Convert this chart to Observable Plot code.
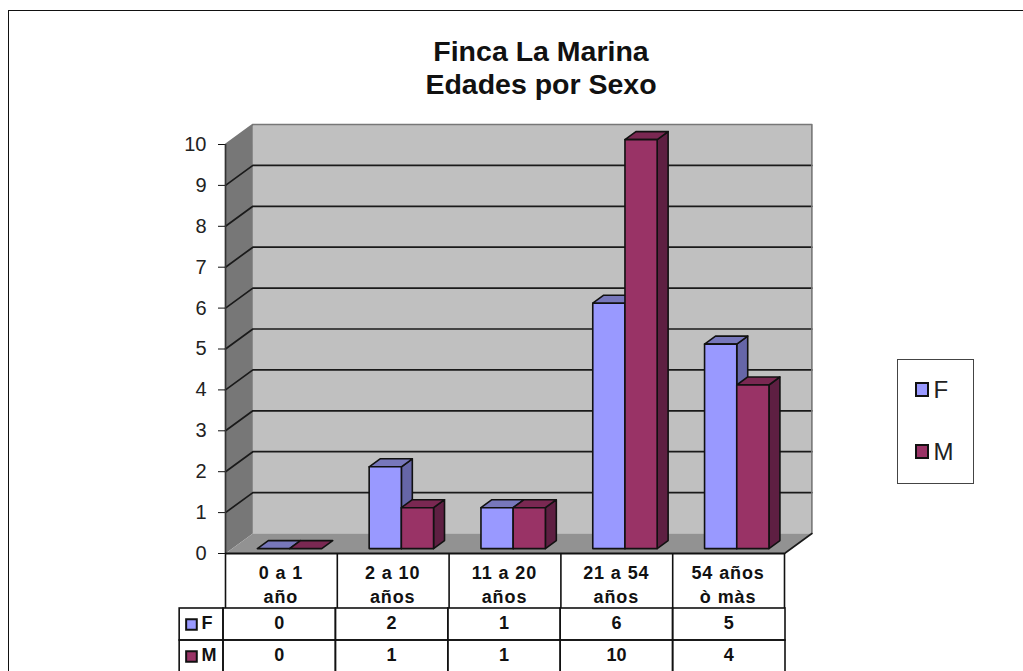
<!DOCTYPE html>
<html lang="es">
<head>
<meta charset="utf-8">
<script src="https://cdn.jsdelivr.net/npm/d3@7"></script>
<script src="https://cdn.jsdelivr.net/npm/@observablehq/plot@0.6"></script>
<style>
html,body{margin:0;padding:0;background:#fff;width:1023px;height:671px;overflow:hidden;font-family:"Liberation Sans",Arial,sans-serif;}
#frame{position:absolute;left:7.5px;top:10px;width:1040px;height:680px;border:1.5px solid #111;box-sizing:border-box;}
#title{position:absolute;left:191px;width:700px;top:35px;text-align:center;font-weight:bold;font-size:28.5px;line-height:33px;color:#111;}
#legend{position:absolute;left:896.5px;top:358.5px;width:77px;height:125px;border:1.4px solid #444;box-sizing:border-box;background:#fff;}
.key{position:absolute;left:17px;display:flex;align-items:center;font-size:24px;color:#222;height:20px;}
.key i{display:block;width:14px;height:15px;border:2px solid #111;box-sizing:border-box;margin-right:5px;}
#main,#table{position:absolute;left:0;}
#main{top:0}#table{top:607px}
.spaced text,text.spaced{letter-spacing:.9px;}
</style>
</head>
<body>
<div id="frame"></div>
<div id="main"></div>
<div id="table"></div>
<div id="title">Finca La Marina<br>Edades por Sexo</div>
<div id="legend"></div>
<script>
const categories = ["0 a 1\naño", "2 a 10\naños", "11 a 20\naños", "21 a 54\naños", "54 años\nò màs"];
const seriesNames = ["F", "M"];
const valuesF = [0, 2, 1, 6, 5];
const valuesM = [0, 1, 1, 10, 4];
const yTicks = [0, 1, 2, 3, 4, 5, 6, 7, 8, 9, 10];
const gridValues = [1, 2, 3, 4, 5, 6, 7, 8, 9];

const colors = {
  F: {front: "#9999FF", top: "#7777BB", side: "#6666A8"},
  M: {front: "#993366", top: "#7A2852", side: "#5E1F42"}
};

/* depth of the chart box and of the bars, in axis units */
const wallDX = 0.245, wallDY = 0.489;
const barDX = 0.098, barDY = 0.196, barLift = 0.12;
const barStart = 0.285, barWidth = 0.288;
const headerDepth = -1.345;

const poly = (pts, o) => Plot.line(pts, {x: "0", y: "1", ...o});
const closed = (...pts) => [...pts, pts[0]];

function barMarks(i, v, s, k) {
  const x0 = i + barStart + k * barWidth, x1 = x0 + barWidth;
  const y0 = barLift, y1 = barLift + v;
  const c = colors[s];
  const line = {stroke: "#111", strokeWidth: 1.6, strokeLinejoin: "round"};
  const out = [];
  if (v > 0) out.push(poly(closed([x1, y0], [x1 + barDX, y0 + barDY], [x1 + barDX, y1 + barDY], [x1, y1]), {fill: c.side, ...line}));
  out.push(poly(closed([x0, y1], [x1, y1], [x1 + barDX, y1 + barDY], [x0 + barDX, y1 + barDY]), {fill: c.top, ...line}));
  if (v > 0) out.push(poly(closed([x0, y0], [x1, y0], [x1, y1], [x0, y1]), {fill: c.front, ...line}));
  return out;
}

const n = categories.length;
const chart = Plot.plot({
  width: 1023, height: 671,
  marginLeft: 225, marginRight: 239, marginTop: 144, marginBottom: 118,
  x: {domain: [0, n], axis: null},
  y: {domain: [0, 10], axis: null},
  style: {fontFamily: "Liberation Sans", background: "transparent", overflow: "visible"},
  marks: [
    // left wall, back wall, floor
    poly(closed([0, 0], [wallDX, wallDY], [wallDX, 10 + wallDY], [0, 10]), {fill: "#777777", stroke: "none"}),
    poly(closed([wallDX, wallDY], [n + wallDX, wallDY], [n + wallDX, 10 + wallDY], [wallDX, 10 + wallDY]), {fill: "#C0C0C0", stroke: "none"}),
    poly(closed([0, 0], [n, 0], [n + wallDX, wallDY], [wallDX, wallDY]), {fill: "#929292", stroke: "none"}),
    // gridlines
    ...gridValues.map(v => poly([[0, v], [wallDX, v + wallDY], [n + wallDX, v + wallDY]], {stroke: "#1a1a1a", strokeWidth: 1.7})),
    poly([[0, 10], [wallDX, 10 + wallDY], [n + wallDX, 10 + wallDY], [n + wallDX, wallDY]], {stroke: "#777", strokeWidth: 1.6}),
    poly([[n, 0], [n + wallDX, wallDY]], {stroke: "#1a1a1a", strokeWidth: 1.6}),
    // bars
    ...d3.range(n).flatMap(i => [...barMarks(i, valuesF[i], "F", 0), ...barMarks(i, valuesM[i], "M", 1)]),
    // axis
    Plot.axisY({ticks: yTicks, tickFormat: d => String(d), anchor: "left", tickSize: 7, tickPadding: 12, fontSize: 20, label: null, stroke: "#111", color: "#222"}),
    Plot.ruleX([0], {y1: 0, y2: 10, stroke: "#333", strokeWidth: 1.7}),
    Plot.ruleY([0], {x1: 0, x2: n, stroke: "#111", strokeWidth: 1.8}),
    // data table header
    Plot.ruleX(d3.range(n + 1), {y1: 0, y2: headerDepth, stroke: "#111", strokeWidth: 1.6}),
    Plot.text(categories, {x: (d, i) => i + 0.5, y: 0, dy: 29.5, dx: -0.5, text: d => d, fontSize: 18, fontWeight: "bold", lineHeight: 1.33, fill: "#111", className: "spaced"})
  ]
});
document.getElementById("main").append(chart);

const rows = seriesNames.flatMap((s, k) => (k ? valuesM : valuesF).map((v, i) => ({s, i, v})));
const keyLeft = -0.39;
const table = Plot.plot({
  width: 1023, height: 65,
  marginLeft: 223, marginRight: 238, marginTop: 1, marginBottom: 0,
  x: {domain: [0, n], axis: null},
  y: {domain: seriesNames, axis: null, padding: 0},
  style: {fontFamily: "Liberation Sans", background: "transparent", overflow: "visible"},
  marks: [
    Plot.barX(rows, {x1: "i", x2: d => d.i + 1, y: "s", stroke: "#111", strokeWidth: 1.6, fill: "none"}),
    Plot.barX(seriesNames, {x1: keyLeft, x2: 0, y: d => d, stroke: "#111", strokeWidth: 1.6, fill: "none"}),
    Plot.dot(seriesNames, {x: -0.285, y: d => d, symbol: "square", r: 6, fill: d => colors[d].front, stroke: "#111", strokeWidth: 2}),
    Plot.text(seriesNames, {x: -0.196, y: d => d, dy: -1, text: d => d, textAnchor: "start", fontSize: 18, fontWeight: "bold", fill: "#111"}),
    Plot.text(rows, {x: d => d.i + 0.5, y: "s", dy: -1, dx: -0.5, text: d => String(d.v), fontSize: 18, fontWeight: "bold", fill: "#111"})
  ]
});
document.getElementById("table").append(table);

const legend = document.getElementById("legend");
seriesNames.forEach((s, k) => {
  const el = document.createElement("div");
  el.className = "key";
  el.style.top = (20 + k * 62) + "px";
  const sw = document.createElement("i");
  sw.style.background = colors[s].front;
  el.append(sw, s);
  legend.append(el);
});
</script>
</body>
</html>
